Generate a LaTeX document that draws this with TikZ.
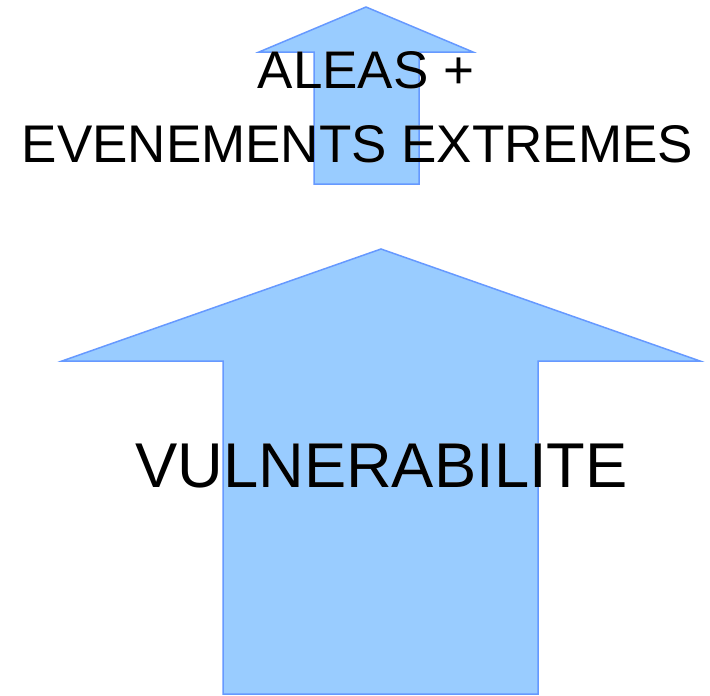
\documentclass[tikz,border=0pt]{standalone}
\usepackage{fontspec}
\setmainfont{Liberation Sans}
\usepackage[outline]{contour}
\contourlength{1.2pt}
\begin{document}
\begin{tikzpicture}[x=1pt,y=-1pt,
  arrowshape/.style={fill={rgb,255:red,153;green,204;blue,255},draw={rgb,255:red,102;green,153;blue,255},line width=1.5pt,line join=miter},
  lbl/.style={inner sep=0pt,anchor=base,text=black}]
\useasboundingbox (0,0) rectangle (710,696);
\fill[white] (0,0) rectangle (710,696);
\draw[arrowshape] (366,7) -- (473,52) -- (419,52) -- (419,184) -- (314,184) -- (314,52) -- (259,52) -- cycle;
\draw[arrowshape] (381,249) -- (700,361) -- (538,361) -- (538,694) -- (223,694) -- (223,361) -- (62,361) -- cycle;
\node[lbl,font=\fontsize{53}{58}\selectfont] (t1) at (366,88) {\contour{white}{ALEAS +}};
\node[lbl,font=\fontsize{53}{58}\selectfont] (t2) at (357.5,162) {\contour{white}{EVENEMENTS EXTREMES}};
\node[lbl,font=\fontsize{63.3}{68}\selectfont] (t3) at (381.5,487) {\contour{white}{VULNERABILITE}};
\end{tikzpicture}
\end{document}
